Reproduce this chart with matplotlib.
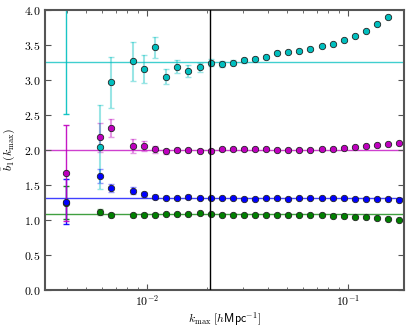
import math
import matplotlib
matplotlib.use("Agg")
import matplotlib.pyplot as plt
from matplotlib.ticker import FuncFormatter

plt.rcParams["mathtext.fontset"] = "cm"
plt.rcParams["font.family"] = ["DejaVu Sans"]

# k_max values of the points
k_vals = [0.003976, 0.005821, 0.006611, 0.008524, 0.009678, 0.01099, 0.01248,
          0.01417, 0.01609, 0.01827, 0.02075, 0.02356, 0.02676, 0.03039,
          0.03450, 0.03917, 0.04449, 0.05050, 0.05735, 0.06512, 0.07396,
          0.08398, 0.09537, 0.1083, 0.1230, 0.1396, 0.1585, 0.1800]

b_cyan = [4.60, 2.05, 2.97, 3.27, 3.16, 3.47, 3.05, 3.19, 3.13, 3.18, 3.25,
          3.23, 3.25, 3.28, 3.30, 3.33, 3.39, 3.40, 3.42, 3.45, 3.48, 3.52,
          3.57, 3.63, 3.70, 3.80, 3.90, 4.08]
e_cyan = [2.08, 0.60, 0.365, 0.28, 0.20, 0.15, 0.11, 0.09, 0.08, 0.07, 0.05,
          0.04, 0.035, 0.03, 0.03, 0.025, 0.02, 0.02, 0.02, 0.015, 0.015,
          0.015, 0.012, 0.012, 0.01, 0.01, 0.01, 0.01]

b_mag = [1.67, 2.18, 2.32, 2.06, 2.06, 2.01, 1.98, 2.00, 1.995, 1.99, 1.99,
         2.014, 2.017, 2.017, 2.017, 2.014, 2.005, 2.00, 1.995, 2.005, 2.01,
         2.017, 2.033, 2.043, 2.057, 2.067, 2.086, 2.105]
e_mag = [0.69, 0.21, 0.13, 0.10, 0.07, 0.05, 0.04, 0.03, 0.025, 0.02, 0.02,
         0.015, 0.015, 0.012, 0.012, 0.01, 0.01, 0.01, 0.01, 0.008, 0.008,
         0.008, 0.007, 0.007, 0.006, 0.006, 0.006, 0.006]

b_blue = [1.26, 1.63, 1.46, 1.42, 1.37, 1.324, 1.319, 1.314, 1.333, 1.31,
          1.314, 1.319, 1.319, 1.305, 1.305, 1.31, 1.31, 1.305, 1.314, 1.319,
          1.319, 1.314, 1.31, 1.305, 1.30, 1.30, 1.295, 1.286]
e_blue = [0.32, 0.10, 0.06, 0.05, 0.035, 0.03, 0.025, 0.02, 0.018, 0.015,
          0.012, 0.01, 0.01, 0.008, 0.008, 0.007, 0.007, 0.006, 0.006, 0.005,
          0.005, 0.005, 0.004, 0.004, 0.004, 0.004, 0.003, 0.003]

b_green = [1.25, 1.114, 1.067, 1.067, 1.076, 1.076, 1.09, 1.086, 1.086,
           1.095, 1.086, 1.076, 1.071, 1.067, 1.067, 1.067, 1.067, 1.067,
           1.067, 1.067, 1.067, 1.057, 1.052, 1.043, 1.038, 1.029, 1.019, 1.00]
e_green = [0.24, 0.04, 0.03, 0.025, 0.02, 0.018, 0.015, 0.012, 0.01, 0.01,
           0.008, 0.007, 0.007, 0.006, 0.006, 0.005, 0.005, 0.005, 0.004,
           0.004, 0.004, 0.004, 0.003, 0.003, 0.003, 0.003, 0.003, 0.003]

fit_levels = {"c": 3.257, "m": 2.0, "b": 1.32, "g": 1.085}
k_vline = 0.0207

series = [("g", b_green, e_green), ("b", b_blue, e_blue),
          ("m", b_mag, e_mag), ("c", b_cyan, e_cyan)]

fig = plt.figure(figsize=(4.13, 3.29), dpi=100)
ax = fig.add_axes([0.109, 0.1185, 0.869, 0.851])

for col, vals, errs in series:
    ax.axhline(fit_levels[col], color=col, lw=1.0, alpha=0.75, zorder=1)
    # error bars (first, poorly constrained point drawn stronger)
    ax.errorbar(k_vals[1:], vals[1:], yerr=errs[1:], fmt="none", ecolor=col,
                alpha=0.4, elinewidth=1.5, capsize=2.5, capthick=1.0, zorder=2)
    ax.errorbar(k_vals[:1], vals[:1], yerr=errs[:1], fmt="none", ecolor=col,
                alpha=0.9, elinewidth=1.0, capsize=2.5, capthick=1.0, zorder=2)

for col, vals, errs in series:
    ax.plot(k_vals, vals, "o", color=col, ms=4.6, mec="#222222", mew=0.6,
            zorder=3)

ax.axvline(k_vline, color="k", lw=1.0, zorder=4)

ax.set_xscale("log")
ax.set_xlim(0.003112, 0.19)
ax.set_ylim(0.0, 4.0)
ax.set_yticks([0.0, 0.5, 1.0, 1.5, 2.0, 2.5, 3.0, 3.5, 4.0])
ax.yaxis.set_major_formatter(FuncFormatter(lambda v, p: r"$%.1f$" % v))
ax.xaxis.set_major_formatter(
    FuncFormatter(lambda v, p: r"$10^{%d}$" % round(math.log10(v))))

ax.tick_params(which="both", direction="in", top=True, right=True,
               colors="#555555", labelcolor="k", labelsize=8.5)
ax.tick_params(which="major", length=4, pad=3)
ax.tick_params(which="minor", length=2)
for sp in ax.spines.values():
    sp.set_color("#555555")
    sp.set_linewidth(1.5)

ax.set_xlabel(r"$k_{\rm max}\ [h\mathsf{Mpc}^{-1}]$", fontsize=8.5, labelpad=1)
ax.set_ylabel(r"$\hat{b}_1(k_{\rm max})$", fontsize=8.5, labelpad=5)

fig.savefig("out.png", dpi=100)
